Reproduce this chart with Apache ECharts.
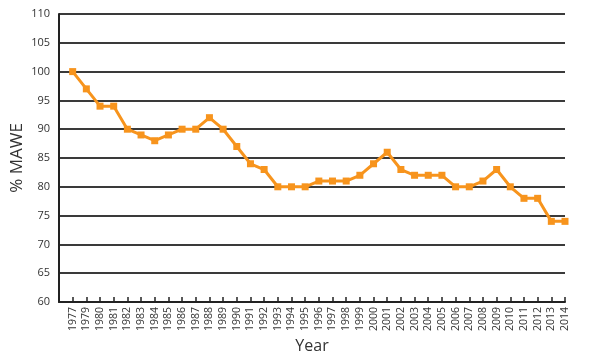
<!DOCTYPE html>
<html><head><meta charset="utf-8">
<script src="https://cdn.jsdelivr.net/npm/echarts@6/dist/echarts.min.js"></script>
<style>html,body{margin:0;padding:0;background:#fff}#c{width:601px;height:357px}</style>
</head><body><div id="c"></div>
<script>
const years = ['1977','1979','1980','1981','1982','1983','1984','1985','1986','1987','1988','1989','1990','1991','1992','1993','1994','1995','1996','1997','1998','1999','2000','2001','2002','2003','2004','2005','2006','2007','2008','2009','2010','2011','2012','2013','2014'];
const mawe = [100,97,94,94,90,89,88,89,90,90,92,90,87,84,83,80,80,80,81,81,81,82,84,86,83,82,82,82,80,80,81,83,80,78,78,74,74];
const yTicks = {min:60, max:110, step:5};

const chart = echarts.init(document.getElementById('c'), null, {renderer:'canvas'});
chart.setOption({
  animation:false,
  grid:{left:59, right:36, top:14, bottom:55, containLabel:false, outerBoundsMode:'none'},
  xAxis:{
    type:'category', data:[''].concat(years), boundaryGap:false,
    name:'Year', nameLocation:'middle', nameGap:33,
    nameTextStyle:{fontFamily:'Open Sans', fontSize:16, color:'#333'},
    axisLine:{show:true, onZero:false, lineStyle:{color:'#222', width:2}},
    axisTick:{show:true, inside:true, length:5, interval:0, lineStyle:{color:'#222', width:1.5}},
    splitLine:{show:false},
    axisLabel:{rotate:90, interval:0, fontFamily:'Open Sans', fontSize:10.5, color:'#333', margin:5}
  },
  yAxis:{
    type:'value', min:yTicks.min, max:yTicks.max, interval:yTicks.step,
    name:'% MAWE', nameLocation:'middle', nameGap:33, nameRotate:90, nameMoveOverlap:false,
    nameTextStyle:{fontFamily:'Open Sans', fontSize:17, color:'#333'},
    axisLine:{show:true, lineStyle:{color:'#222', width:2}},
    axisTick:{show:false},
    splitLine:{show:true, lineStyle:{color:'#3a3a3a', width:2}},
    axisLabel:{fontFamily:'Open Sans', fontSize:11, color:'#333', margin:9}
  },
  series:[{
    type:'line',
    data:[null].concat(mawe),
    symbol:'rect', symbolSize:7,
    lineStyle:{color:'#F7941D', width:3},
    itemStyle:{color:'#F7941D'}
  }]
});
</script></body></html>
